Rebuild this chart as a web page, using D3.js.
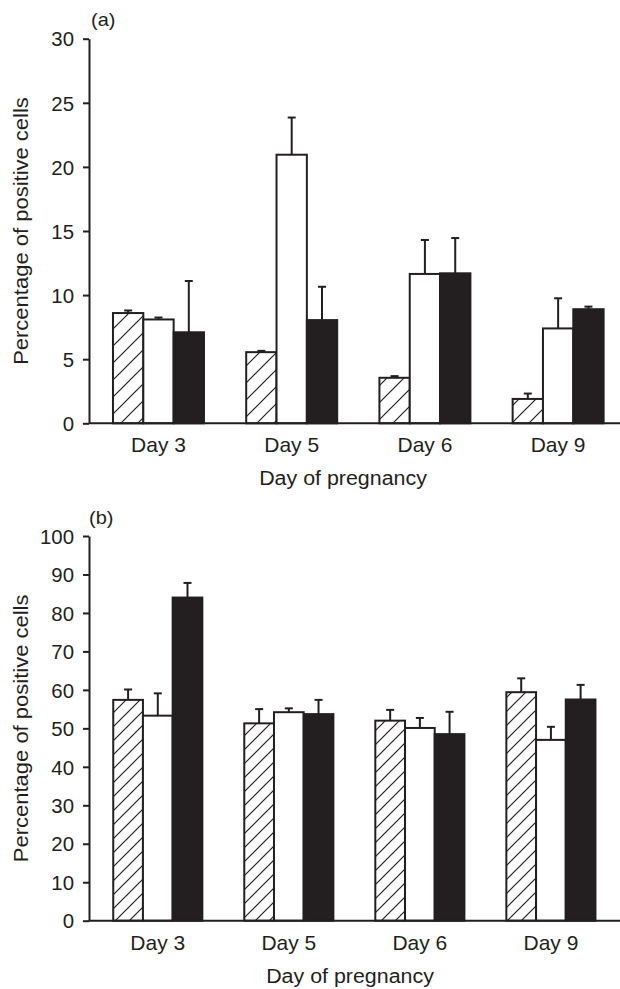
<!DOCTYPE html>
<html>
<head>
<meta charset="utf-8">
<script src="https://cdn.jsdelivr.net/npm/d3@7"></script>
<style>
  html, body { margin: 0; padding: 0; background: #fff; }
  svg { display: block; }
  text { font-family: "Liberation Sans", Arial, Helvetica, sans-serif; fill: #231f20; }
</style>
</head>
<body>
<svg id="chart" width="620" height="989"></svg>
<script>
// ---------- data ----------
const days = ["Day 3", "Day 5", "Day 6", "Day 9"];
const seriesKeys = ["hatched", "open", "solid"];

// Panel (a)
const aHatched = [8.6, 5.55, 3.55, 1.9];
const aHatchedErr = [0.2, 0.1, 0.13, 0.42];
const aOpen = [8.1, 20.95, 11.65, 7.4];
const aOpenErr = [0.15, 2.9, 2.65, 2.35];
const aSolid = [7.1, 8.05, 11.7, 8.9];
const aSolidErr = [4.0, 2.6, 2.75, 0.2];
const aTicks = [0, 5, 10, 15, 20, 25, 30];

// Panel (b)
const bHatched = [57.4, 51.3, 52.0, 59.4];
const bHatchedErr = [2.7, 3.7, 2.8, 3.6];
const bOpen = [53.3, 54.2, 50.1, 47.0];
const bOpenErr = [5.8, 1.0, 2.6, 3.4];
const bSolid = [84.0, 53.7, 48.5, 57.5];
const bSolidErr = [3.8, 3.7, 5.8, 3.8];
const bTicks = [0, 10, 20, 30, 40, 50, 60, 70, 80, 90, 100];

const yTitle = "Percentage of positive cells";
const xTitle = "Day of pregnancy";

// ---------- drawing ----------
const INK = "#231f20";
const svg = d3.select("#chart");
const defs = svg.append("defs");

function hatchPattern(id, size) {
  const p = defs.append("pattern")
    .attr("id", id)
    .attr("patternUnits", "userSpaceOnUse")
    .attr("width", size).attr("height", size);
  p.append("rect").attr("width", size).attr("height", size).attr("fill", "#fff");
  p.append("path")
    .attr("d", `M0,${size} L${size},0 M${-size/2},${size/2} L${size/2},${-size/2} M${size/2},${size*1.5} L${size*1.5},${size/2}`)
    .attr("stroke", INK).attr("stroke-width", 1.2);
}
hatchPattern("hatchA", 17);
hatchPattern("hatchB", 14);

function panel(cfg) {
  const g = svg.append("g");
  const y = d3.scaleLinear().domain(cfg.yDomain).range([cfg.y0, cfg.y1]);
  const x = d3.scaleBand().domain(days).range(cfg.xRange)
    .paddingInner(cfg.padInner).paddingOuter(cfg.padOuter);
  const xs = d3.scaleBand().domain(seriesKeys).range([0, x.bandwidth()]);

  const series = [
    { key: "hatched", vals: cfg.hatched, errs: cfg.hatchedErr, fill: `url(#${cfg.hatchId})` },
    { key: "open", vals: cfg.open, errs: cfg.openErr, fill: "#fff" },
    { key: "solid", vals: cfg.solid, errs: cfg.solidErr, fill: INK }
  ];
  const rows = [];
  series.forEach(s => days.forEach((d, i) => rows.push({ day: d, key: s.key, v: s.vals[i], e: s.errs[i], fill: s.fill })));

  // error bars (upward only)
  const eb = g.append("g").attr("stroke", INK).attr("stroke-width", 2);
  eb.selectAll("line.stem").data(rows).join("line").attr("class", "stem")
    .attr("x1", r => x(r.day) + xs(r.key) + xs.bandwidth() / 2)
    .attr("x2", r => x(r.day) + xs(r.key) + xs.bandwidth() / 2)
    .attr("y1", r => y(r.v)).attr("y2", r => y(r.v + r.e));
  eb.selectAll("line.cap").data(rows).join("line").attr("class", "cap")
    .attr("x1", r => x(r.day) + xs(r.key) + xs.bandwidth() / 2 - 4)
    .attr("x2", r => x(r.day) + xs(r.key) + xs.bandwidth() / 2 + 4)
    .attr("y1", r => y(r.v + r.e)).attr("y2", r => y(r.v + r.e));

  // bars
  g.append("g").selectAll("rect").data(rows).join("rect")
    .attr("x", r => x(r.day) + xs(r.key))
    .attr("width", xs.bandwidth())
    .attr("y", r => y(r.v))
    .attr("height", r => y(0) - y(r.v))
    .attr("fill", r => r.fill)
    .attr("stroke", INK)
    .attr("stroke-width", 2);

  // y axis
  const ya = g.append("g").attr("transform", `translate(${cfg.axisX},0)`)
    .call(d3.axisLeft(y).tickValues(cfg.ticks).tickSize(6).tickSizeOuter(0).tickPadding(9));
  ya.select(".domain").attr("stroke", INK).attr("stroke-width", 2);
  ya.selectAll(".tick line").attr("stroke", INK).attr("stroke-width", 2);
  ya.selectAll(".tick text")
    .attr("font-size", 20)
    .attr("font-family", "'Liberation Sans', Arial, sans-serif")
    .attr("fill", INK)
    .attr("dy", "0.36em")
    .attr("x", null)
    .attr("transform", "translate(-15,0) scale(1.02,1)");

  // x axis line
  g.append("line")
    .attr("x1", cfg.axisX).attr("x2", 620)
    .attr("y1", y(0)).attr("y2", y(0))
    .attr("stroke", INK).attr("stroke-width", 2);

  // x tick labels
  g.append("g").selectAll("text").data(days).join("text")
    .attr("transform", d => `translate(${x(d) + x.bandwidth() / 2},${cfg.xLabelY}) scale(1.05,1)`)
    .attr("text-anchor", "middle")
    .attr("font-size", 20)
    .text(d => d);

  // x title
  g.append("text")
    .attr("transform", `translate(${cfg.xTitleX},${cfg.xTitleY}) scale(1.07,1)`)
    .attr("text-anchor", "middle")
    .attr("font-size", 20)
    .text(xTitle);

  // y title
  g.append("text")
    .attr("transform", `translate(${cfg.yTitleX},${(cfg.y0 + cfg.y1) / 2}) rotate(-90) scale(1.1,1)`)
    .attr("text-anchor", "middle")
    .attr("font-size", 20)
    .text(yTitle);

  // panel label
  g.append("text")
    .attr("transform", `translate(${cfg.labelX},${cfg.labelY}) scale(1.05,1)`)
    .attr("font-size", 19)
    .text(cfg.label);
}

panel({
  label: "(a)", labelX: 91, labelY: 26,
  yDomain: [0, 30], y0: 423.3, y1: 38.7, ticks: aTicks,
  xRange: [89, 627.6], padInner: 0.317, padOuter: 0.18, axisX: 89,
  hatched: aHatched, hatchedErr: aHatchedErr, open: aOpen, openErr: aOpenErr,
  solid: aSolid, solidErr: aSolidErr, hatchId: "hatchA",
  xLabelY: 452, xTitleX: 343, xTitleY: 485, yTitleX: 28
});

panel({
  label: "(b)", labelX: 89, labelY: 524,
  yDomain: [0, 100], y0: 920.7, y1: 536, ticks: bTicks,
  xRange: [89, 619.7], padInner: 0.32, padOuter: 0.185, axisX: 89,
  hatched: bHatched, hatchedErr: bHatchedErr, open: bOpen, openErr: bOpenErr,
  solid: bSolid, solidErr: bSolidErr, hatchId: "hatchB",
  xLabelY: 950, xTitleX: 350, xTitleY: 983, yTitleX: 28
});
</script>
</body>
</html>
